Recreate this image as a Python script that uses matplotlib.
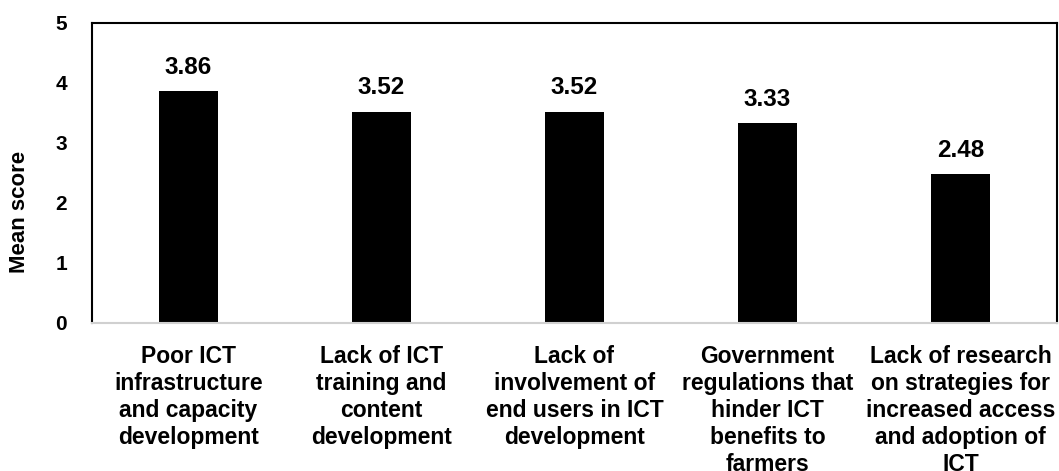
import numpy as np
import matplotlib
matplotlib.use("Agg")
import matplotlib.pyplot as plt

categories = ["Poor ICT\ninfrastructure\nand capacity\ndevelopment",
              "Lack of ICT\ntraining and\ncontent\ndevelopment",
              "Lack of\ninvolvement of\nend users in ICT\ndevelopment",
              "Government\nregulations that\nhinder ICT\nbenefits to\nfarmers",
              "Lack of research\non strategies for\nincreased access\nand adoption of\nICT"]
scores = [3.86, 3.52, 3.52, 3.33, 2.48]
yticks = [0, 1, 2, 3, 4, 5]

plt.rcParams['font.family'] = ['Liberation Sans', 'DejaVu Sans']
plt.rcParams['font.weight'] = 'bold'

fig = plt.figure(figsize=(10.59, 4.71), dpi=100)
ax = fig.add_axes([92/1059, 1-323/471, 965/1059, 300/471])

x = np.arange(len(categories))
bars = ax.bar(x, scores, width=0.31, color='black')

ax.set_xlim(-0.5, 4.5)
ax.set_ylim(0, 5)
ax.set_yticks(yticks)
ax.set_yticklabels([str(t) for t in yticks], fontsize=15, fontweight='bold')
ax.set_xticks(x)
ax.set_xticklabels(categories, fontsize=16.5, fontweight='bold', linespacing=1.22, va='top')
ax.tick_params(axis='y', length=0, pad=18)
ax.tick_params(axis='x', length=0, pad=16)

for s in ['left', 'top', 'right']:
    ax.spines[s].set_color('black')
    ax.spines[s].set_linewidth(1.5)
ax.spines['bottom'].set_color('#d0d0d0')
ax.spines['bottom'].set_linewidth(1.5)

for b, v in zip(bars, scores):
    ax.annotate(f"{v:.2f}", (b.get_x() + b.get_width()/2, v), xytext=(0, 9),
                textcoords='offset points', ha='center', va='bottom',
                fontsize=17.5, fontweight='bold')

fig.text(20/1059, 1-212/471, "Mean score", rotation=90, ha='center', va='center',
         fontsize=16, fontweight='bold')

fig.savefig("out.png", dpi=100)
